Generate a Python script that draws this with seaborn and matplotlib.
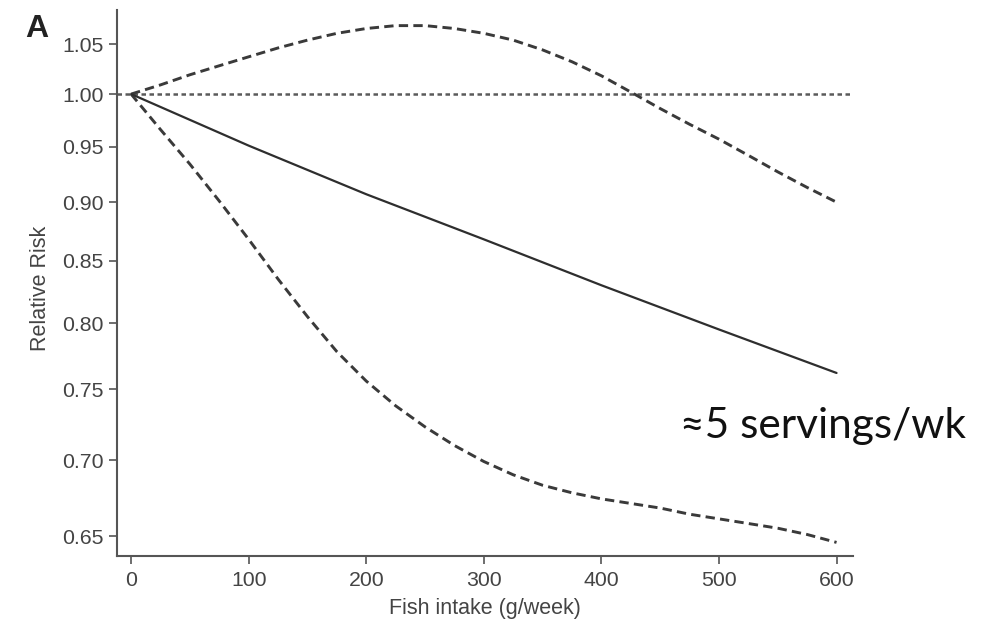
import numpy as np
import pandas as pd
import matplotlib
matplotlib.use("Agg")
import matplotlib.pyplot as plt
import seaborn as sns

# ---- data ----
intake_solid = [0, 100, 200, 300, 400, 500, 600]
rr_solid = [1.000, 0.951, 0.907, 0.868, 0.830, 0.795, 0.762]

intake_ci = [0, 25, 50, 75, 100, 125, 150, 175, 200, 225, 250, 275, 300,
             325, 350, 375, 400, 425, 450, 475, 500, 525, 550, 575, 600]
rr_upper = [1.000, 1.009, 1.019, 1.028, 1.037, 1.046, 1.054, 1.061, 1.066, 1.069, 1.069, 1.066, 1.061,
            1.054, 1.044, 1.032, 1.018, 1.002, 0.986, 0.971, 0.957, 0.942, 0.927, 0.913, 0.900]
rr_lower = [1.000, 0.966, 0.934, 0.901, 0.868, 0.835, 0.805, 0.778, 0.756, 0.738, 0.723, 0.710, 0.699,
            0.690, 0.683, 0.678, 0.674, 0.671, 0.668, 0.664, 0.661, 0.658, 0.655, 0.651, 0.646]

x_ticks = [0, 100, 200, 300, 400, 500, 600]
y_ticks = [0.65, 0.70, 0.75, 0.80, 0.85, 0.90, 0.95, 1.00, 1.05]
y_tick_labels = ["0.65", "0.70", "0.75", "0.80", "0.85", "0.90", "0.95", "1.00", "1.05"]

x_label = "Fish intake (g/week)"
y_label = "Relative Risk"
panel_label = "A"
annotation = "≈5 servings/wk"

# ---- styling ----
sns.set_style("ticks")
plt.rcParams["font.family"] = ["Liberation Sans", "DejaVu Sans"]

fig = plt.figure(figsize=(10.02, 6.21), dpi=100)
ax = fig.add_axes([117 / 1002, 1 - 556 / 621, 736 / 1002, 546 / 621])

df_solid = pd.DataFrame({"x": intake_solid, "y": rr_solid})
df_ci = pd.DataFrame({"x": intake_ci, "upper": rr_upper, "lower": rr_lower})

line_col = "#2e2e2e"
dash_col = "#3a3a3a"

ax.axhline(1.0, color="#5a5a5a", lw=1.8, linestyle=(0, (1.8, 1.4)), zorder=1)
sns.lineplot(data=df_solid, x="x", y="y", ax=ax, color=line_col, lw=1.6, zorder=3)
sns.lineplot(data=df_ci, x="x", y="upper", ax=ax, color=dash_col, lw=2.1,
             linestyle=(0, (3.2, 1.8)), zorder=2)
sns.lineplot(data=df_ci, x="x", y="lower", ax=ax, color=dash_col, lw=2.1,
             linestyle=(0, (3.2, 1.8)), zorder=2)

ax.set_yscale("log")
ax.set_xlim(-12, 614)
ax.set_ylim(0.6375, 1.0854)
ax.set_yticks(y_ticks)
ax.set_yticklabels(y_tick_labels)
ax.yaxis.set_minor_locator(matplotlib.ticker.NullLocator())
ax.set_xticks(x_ticks)
ax.set_xticklabels([str(v) for v in x_ticks])

for side in ["top", "right"]:
    ax.spines[side].set_visible(False)
for side in ["left", "bottom"]:
    ax.spines[side].set_color("#555555")
    ax.spines[side].set_linewidth(1.5)

ax.tick_params(axis="both", which="major", direction="out", length=6, width=1.2,
               color="#555555", labelcolor="#444444", labelsize=15.3,
               left=True, bottom=True)
ax.tick_params(axis="y", pad=3.5)
ax.tick_params(axis="x", pad=5.0)

ax.set_xlabel(x_label, fontsize=15.5, color="#444444")
ax.set_ylabel(y_label, fontsize=15.5, color="#444444")
ax.xaxis.set_label_coords(0.5, -0.077)
ax.yaxis.set_label_coords(-0.089, 0.49)

fig.text(25 / 1002, 1 - 37 / 621, panel_label, fontsize=23, fontweight="bold",
         color="#222222", ha="left", va="baseline")
fig.text(680 / 1002, 1 - 438 / 621, annotation, fontsize=30.5, color="#111111",
         ha="left", va="baseline", family=["Lato", "DejaVu Sans"])

fig.savefig("out.png", dpi=100, facecolor="white")
